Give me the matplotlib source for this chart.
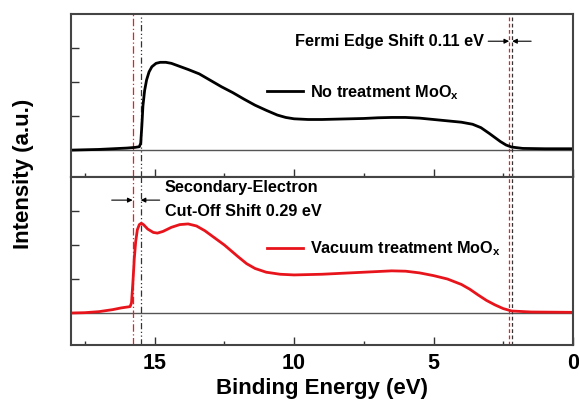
import numpy as np
import matplotlib
matplotlib.use('Agg')
import matplotlib.pyplot as plt
from matplotlib.ticker import MultipleLocator

plt.rcParams['font.family'] = ['Liberation Sans', 'DejaVu Sans']
plt.rcParams['font.weight'] = 'bold'
plt.rcParams['mathtext.fontset'] = 'custom'
plt.rcParams['mathtext.rm'] = 'Liberation Sans:bold'
plt.rcParams['mathtext.bf'] = 'Liberation Sans:bold'

# UPS spektrum, tanpa perlakuan (hitam)
e_no = [18.0, 17.5, 17.0, 16.5, 16.0, 15.7, 15.55, 15.5, 15.46, 15.42, 15.36, 15.29,
        15.2, 15.1, 14.95, 14.8, 14.6, 14.4, 14.1, 13.8, 13.4, 13.0, 12.6, 12.2,
        11.8, 11.4, 11.0, 10.6, 10.3, 10.0, 9.5, 9.0, 8.5, 8.0, 7.5, 7.0, 6.5,
        6.0, 5.5, 5.0, 4.5, 4.0, 3.6, 3.3, 3.0, 2.8, 2.6, 2.4, 2.2, 1.8, 1.0, 0.0]
i_no = [0.0, 0.01, 0.02, 0.04, 0.06, 0.08, 0.1, 0.2, 0.7, 1.3, 1.75, 2.06,
        2.3, 2.45, 2.55, 2.58, 2.58, 2.55, 2.46, 2.37, 2.24, 2.05, 1.86, 1.69,
        1.5, 1.32, 1.17, 1.03, 0.96, 0.92, 0.9, 0.9, 0.91, 0.92, 0.93, 0.95, 0.96,
        0.96, 0.94, 0.9, 0.86, 0.82, 0.76, 0.66, 0.49, 0.37, 0.25, 0.15, 0.09, 0.05, 0.04, 0.04]

# UPS spektrum, perlakuan vakum (merah)
e_vac = [18.0, 17.5, 17.0, 16.5, 16.2, 15.95, 15.88, 15.83, 15.78, 15.73, 15.68,
         15.62, 15.55, 15.48, 15.4, 15.25, 15.05, 14.9, 14.7, 14.4, 14.1, 13.8,
         13.5, 13.2, 12.9, 12.5, 12.0, 11.7, 11.4, 11.0, 10.5, 10.0, 9.5, 9.0,
         8.5, 8.0, 7.5, 7.0, 6.5, 6.0, 5.5, 5.0, 4.5, 4.0, 3.7, 3.4, 3.1, 2.8,
         2.5, 2.2, 1.5, 0.0]
i_vac = [0.0, 0.01, 0.04, 0.1, 0.15, 0.18, 0.19, 0.3, 0.9, 1.6, 2.1,
         2.45, 2.6, 2.64, 2.6, 2.47, 2.37, 2.35, 2.4, 2.52, 2.6, 2.62,
         2.56, 2.42, 2.24, 2.0, 1.65, 1.45, 1.31, 1.2, 1.14, 1.12, 1.13, 1.14,
         1.16, 1.18, 1.2, 1.22, 1.24, 1.23, 1.18, 1.1, 1.0, 0.84, 0.7, 0.53, 0.37, 0.24,
         0.13, 0.06, 0.03, 0.02]

# posisi cut-off dan tepi Fermi
cutoff_no, cutoff_vac = 15.50, 15.79
fermi_no, fermi_vac = 2.18, 2.29

fig = plt.figure(figsize=(5.79, 4.01), dpi=100)
ax1 = fig.add_axes([0.1226, 0.5586, 0.867, 0.4065])
ax2 = fig.add_axes([0.1226, 0.1397, 0.867, 0.4189])

for ax, lo in [(ax1, -0.79), (ax2, -0.94)]:
    ax.set_xlim(18, 0)
    ax.set_ylim(lo, 4.0)
    ax.axhline(0, color='#555555', lw=1)
    ax.axvline(cutoff_vac, color='#e0202a', lw=0.9, ls=(0, (6, 2, 1, 2)))
    ax.axvline(cutoff_no, color='#333333', lw=0.9, ls=(0, (5, 2, 1, 2, 1, 2)))
    ax.axvline(fermi_vac, color='#e0202a', lw=0.9, ls=(0, (3, 2)))
    ax.axvline(fermi_no, color='#333333', lw=0.9, ls=(0, (3, 2)))
    ax.set_yticks([1, 2, 3])
    ax.set_yticklabels([])
    ax.xaxis.set_major_locator(MultipleLocator(5))
    ax.xaxis.set_minor_locator(MultipleLocator(2.5))
    ax.tick_params(which='both', direction='in', top=False, right=False, width=1, colors='#333333')
    ax.tick_params(which='major', length=6)
    ax.tick_params(which='minor', length=3)
    for s in ax.spines.values():
        s.set_linewidth(1.5)
        s.set_color('#444444')

ax1.plot(e_no, i_no, color='black', lw=2, label='No treatment MoO$_\\mathregular{x}$')
ax2.plot(e_vac, i_vac, color='#e8141c', lw=2, label='Vacuum treatment MoO$_\\mathregular{x}$')

ax1.set_xticklabels([])
ax2.tick_params(axis='x', labelsize=15.5, labelcolor='black', pad=6)
for t in ax2.get_xticklabels():
    t.set_fontweight('bold')

for ax, yf in [(ax1, 0.52), (ax2, 0.571)]:
    ax.legend(loc='center left', bbox_to_anchor=(0.39, yf), frameon=False,
              handlelength=2.2, handletextpad=0.43, borderpad=0, borderaxespad=0,
              prop={'weight': 'bold', 'size': 11.7})

# panah pergeseran
arr = dict(arrowstyle='-|>', lw=0.8, color='black', mutation_scale=7, shrinkA=0, shrinkB=0)
ax1.annotate('', xy=(fermi_vac, 3.2), xytext=(3.04, 3.2), arrowprops=arr)
ax1.annotate('', xy=(fermi_no, 3.2), xytext=(1.5, 3.2), arrowprops=arr)
ax1.text(3.2, 3.2, 'Fermi Edge Shift 0.11 eV', ha='right', va='center', fontsize=11.7, fontweight='bold')

ax2.annotate('', xy=(cutoff_vac, 3.32), xytext=(16.54, 3.32), arrowprops=arr)
ax2.annotate('', xy=(cutoff_no, 3.32), xytext=(14.82, 3.32), arrowprops=arr)
ax2.text(14.64, 3.68, 'Secondary-Electron', ha='left', va='center', fontsize=11.7, fontweight='bold')
ax2.text(14.64, 3.0, 'Cut-Off Shift 0.29 eV', ha='left', va='center', fontsize=11.7, fontweight='bold')

ax2.set_xlabel('Binding Energy (eV)', fontsize=16, fontweight='bold', labelpad=3)
fig.text(0.04, 0.566, 'Intensity (a.u.)', rotation=90, ha='center', va='center',
         fontsize=16, fontweight='bold')

fig.savefig('out.png', dpi=100)
